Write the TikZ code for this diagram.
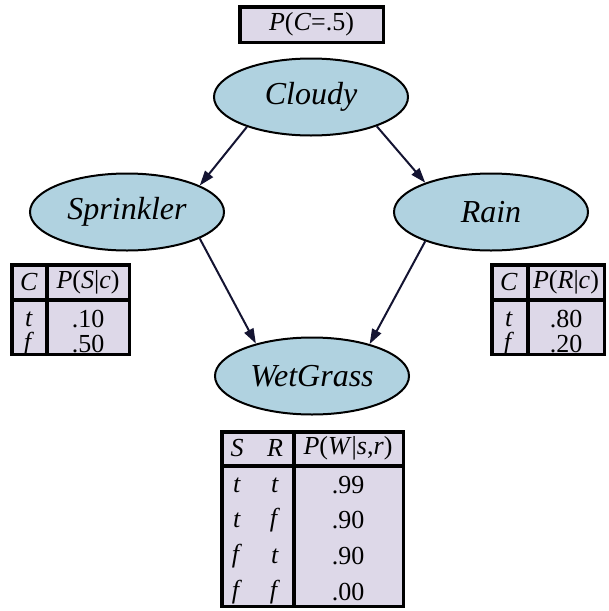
\documentclass[tikz,border=0pt]{standalone}
\usepackage{fontspec}
\setmainfont{Liberation Serif}
\usetikzlibrary{shapes.geometric,arrows.meta}
\definecolor{nodeblue}{HTML}{B0D2E0}
\definecolor{cptfill}{HTML}{DDD8E8}
\definecolor{edgenavy}{HTML}{141432}
\newcommand{\iv}[1]{\textit{#1}}
\begin{document}
\begin{tikzpicture}[x=1pt,y=-1pt,
  var/.style={ellipse, draw=black, line width=2pt, fill=nodeblue,
    minimum width=194pt, minimum height=77pt, inner sep=0pt,
    font=\fontsize{32}{36}\selectfont\itshape},
  edge/.style={draw=edgenavy, line width=2pt, -{Triangle[length=15pt,width=10pt]}},
  cptbox/.style={fill=cptfill, draw=black, line width=3.5pt},
  rule/.style={draw=black, line width=3.5pt},
  cell/.style={inner sep=0pt, anchor=center, font=\fontsize{26}{30}\selectfont}]
\useasboundingbox (0,0) rectangle (609,611);

% prior of Cloudy
\node[cptbox, minimum width=143.5pt, minimum height=35.5pt, inner sep=0pt,
  font=\fontsize{26}{30}\selectfont] (prior) at (311.5,24.5)
  {\iv{P}(\iv{C}=.5)};

% network variables
\node[var] (cloudy) at (311,97) {Cloudy};
\node[var] (sprinkler) at (127,212) {Sprinkler};
\node[var] (rain) at (491,212) {Rain};
\node[var] (wet) at (312,376) {WetGrass};

% dependencies
\draw[edge] (cloudy.205) -- (sprinkler.20);
\draw[edge] (cloudy.336) -- (rain.156);
\draw[edge] (sprinkler.-20) -- (wet.150);
\draw[edge] (rain.204) -- (wet.29);

% CPT for Sprinkler
\filldraw[cptbox] (11.75,264.75) rectangle (129.25,354.25);
\draw[rule] (47,264.75) -- (47,354.25);
\draw[rule] (11.75,300) -- (129.25,300);
\node[cell] (sh1) at (29,282) {\iv{C}};
\node[cell] (sh2) at (88,282) {\iv{P}(\iv{S}\textup{|}\iv{c})};
\node[cell] (sa1) at (29,319) {\iv{t}};
\node[cell] (sa2) at (88,319) {.10};
\node[cell] (sb1) at (29,344) {\iv{f}};
\node[cell] (sb2) at (88,344) {.50};

% CPT for Rain
\filldraw[cptbox] (491.75,264.75) rectangle (604.25,354.25);
\draw[rule] (528,264.75) -- (528,354.25);
\draw[rule] (491.75,300) -- (604.25,300);
\node[cell] (rh1) at (509,282) {\iv{C}};
\node[cell] (rh2) at (566,282) {\iv{P}(\iv{R}\textup{|}\iv{c})};
\node[cell] (ra1) at (509,319) {\iv{t}};
\node[cell] (ra2) at (566,319) {.80};
\node[cell] (rb1) at (509,344) {\iv{f}};
\node[cell] (rb2) at (566,344) {.20};

% CPT for WetGrass
\filldraw[cptbox] (221.75,431.75) rectangle (403.25,606.25);
\draw[rule] (294,431.75) -- (294,606.25);
\draw[rule] (221.75,466) -- (403.25,466);
\node[cell] (wh1) at (237,448) {\iv{S}};
\node[cell] (wh2) at (275,448) {\iv{R}};
\node[cell] (wh3) at (348,448) {\iv{P}(\iv{W}\textup{|}\iv{s},\iv{r})};
\node[cell] (wa1) at (237,485) {\iv{t}};
\node[cell] (wa2) at (275,485) {\iv{t}};
\node[cell] (wa3) at (348,485) {.99};
\node[cell] (wb1) at (237,520) {\iv{t}};
\node[cell] (wb2) at (275,520) {\iv{f}};
\node[cell] (wb3) at (348,520) {.90};
\node[cell] (wc1) at (237,556) {\iv{f}};
\node[cell] (wc2) at (275,556) {\iv{t}};
\node[cell] (wc3) at (348,556) {.90};
\node[cell] (wd1) at (237,592) {\iv{f}};
\node[cell] (wd2) at (275,592) {\iv{f}};
\node[cell] (wd3) at (348,592) {.00};
\end{tikzpicture}
\end{document}
